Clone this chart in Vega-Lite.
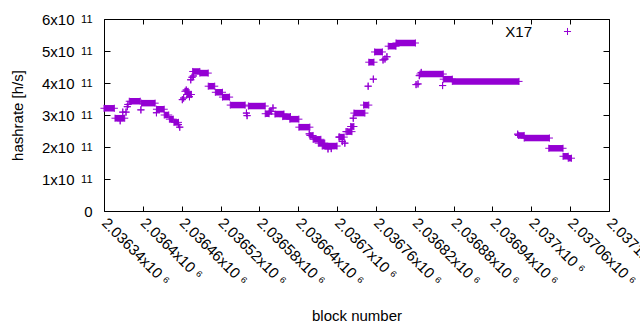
{
  "$schema": "https://vega.github.io/schema/vega-lite/v6.json",
  "width": 505,
  "height": 192,
  "autosize": "none",
  "padding": {"left": 104, "top": 19, "right": 31, "bottom": 119},
  "background": "white",
  "config": {
    "view": {"stroke": "black", "strokeWidth": 1},
    "font": "Liberation Sans",
    "axis": {
      "labelFont": "Liberation Sans",
      "labelFontSize": 15,
      "labelColor": "black",
      "titleFont": "Liberation Sans",
      "titleFontSize": 15,
      "titleFontWeight": "normal",
      "titleColor": "black",
      "tickColor": "black",
      "domain": false,
      "grid": false
    }
  },
  "data": {
    "values": [
      {"s": 2036340, "e": 2036356, "h": 3.21e11},
      {"s": 2036357, "e": 2036372, "h": 2.90e11},
      {"s": 2036365, "e": 2036365, "h": 2.82e11},
      {"s": 2036369, "e": 2036369, "h": 3.09e11},
      {"s": 2036374, "e": 2036374, "h": 3.09e11},
      {"s": 2036376, "e": 2036376, "h": 3.26e11},
      {"s": 2036377, "e": 2036377, "h": 3.33e11},
      {"s": 2036379, "e": 2036396, "h": 3.43e11},
      {"s": 2036397, "e": 2036397, "h": 3.16e11},
      {"s": 2036398, "e": 2036419, "h": 3.37e11},
      {"s": 2036421, "e": 2036421, "h": 3.07e11},
      {"s": 2036421, "e": 2036433, "h": 3.18e11},
      {"s": 2036433, "e": 2036440, "h": 3.00e11},
      {"s": 2036441, "e": 2036447, "h": 2.87e11},
      {"s": 2036448, "e": 2036455, "h": 2.77e11},
      {"s": 2036455, "e": 2036455, "h": 2.70e11},
      {"s": 2036457, "e": 2036457, "h": 2.62e11},
      {"s": 2036461, "e": 2036461, "h": 3.48e11},
      {"s": 2036463, "e": 2036463, "h": 3.53e11},
      {"s": 2036465, "e": 2036470, "h": 3.74e11},
      {"s": 2036467, "e": 2036467, "h": 3.78e11},
      {"s": 2036468, "e": 2036475, "h": 3.64e11},
      {"s": 2036472, "e": 2036472, "h": 3.57e11},
      {"s": 2036474, "e": 2036474, "h": 4.10e11},
      {"s": 2036476, "e": 2036476, "h": 4.18e11},
      {"s": 2036478, "e": 2036478, "h": 4.22e11},
      {"s": 2036477, "e": 2036488, "h": 4.36e11},
      {"s": 2036488, "e": 2036501, "h": 4.31e11},
      {"s": 2036501, "e": 2036511, "h": 3.90e11},
      {"s": 2036512, "e": 2036523, "h": 3.71e11},
      {"s": 2036523, "e": 2036534, "h": 3.56e11},
      {"s": 2036535, "e": 2036558, "h": 3.31e11},
      {"s": 2036560, "e": 2036560, "h": 3.06e11},
      {"s": 2036561, "e": 2036561, "h": 2.98e11},
      {"s": 2036563, "e": 2036589, "h": 3.28e11},
      {"s": 2036589, "e": 2036595, "h": 3.04e11},
      {"s": 2036595, "e": 2036599, "h": 3.11e11},
      {"s": 2036601, "e": 2036601, "h": 3.22e11},
      {"s": 2036604, "e": 2036618, "h": 3.03e11},
      {"s": 2036616, "e": 2036628, "h": 2.95e11},
      {"s": 2036627, "e": 2036641, "h": 2.87e11},
      {"s": 2036641, "e": 2036658, "h": 2.62e11},
      {"s": 2036657, "e": 2036657, "h": 2.41e11},
      {"s": 2036658, "e": 2036663, "h": 2.36e11},
      {"s": 2036663, "e": 2036675, "h": 2.24e11},
      {"s": 2036671, "e": 2036681, "h": 2.12e11},
      {"s": 2036677, "e": 2036700, "h": 2.03e11},
      {"s": 2036686, "e": 2036686, "h": 1.94e11},
      {"s": 2036691, "e": 2036691, "h": 1.95e11},
      {"s": 2036703, "e": 2036703, "h": 2.31e11},
      {"s": 2036704, "e": 2036711, "h": 2.31e11},
      {"s": 2036708, "e": 2036708, "h": 2.17e11},
      {"s": 2036712, "e": 2036712, "h": 2.12e11},
      {"s": 2036714, "e": 2036714, "h": 2.48e11},
      {"s": 2036716, "e": 2036723, "h": 2.48e11},
      {"s": 2036721, "e": 2036726, "h": 2.64e11},
      {"s": 2036725, "e": 2036725, "h": 2.90e11},
      {"s": 2036726, "e": 2036743, "h": 3.06e11},
      {"s": 2036741, "e": 2036749, "h": 3.31e11},
      {"s": 2036748, "e": 2036748, "h": 3.90e11},
      {"s": 2036749, "e": 2036757, "h": 4.65e11},
      {"s": 2036756, "e": 2036756, "h": 4.12e11},
      {"s": 2036758, "e": 2036770, "h": 4.97e11},
      {"s": 2036771, "e": 2036771, "h": 4.72e11},
      {"s": 2036774, "e": 2036774, "h": 4.75e11},
      {"s": 2036777, "e": 2036777, "h": 4.82e11},
      {"s": 2036779, "e": 2036791, "h": 5.15e11},
      {"s": 2036791, "e": 2036821, "h": 5.25e11},
      {"s": 2036822, "e": 2036822, "h": 3.95e11},
      {"s": 2036825, "e": 2036825, "h": 3.97e11},
      {"s": 2036827, "e": 2036827, "h": 4.23e11},
      {"s": 2036830, "e": 2036830, "h": 4.33e11},
      {"s": 2036828, "e": 2036864, "h": 4.28e11},
      {"s": 2036863, "e": 2036863, "h": 3.92e11},
      {"s": 2036864, "e": 2036878, "h": 4.12e11},
      {"s": 2036878, "e": 2036981, "h": 4.05e11},
      {"s": 2036979, "e": 2036979, "h": 2.40e11},
      {"s": 2036980, "e": 2036989, "h": 2.36e11},
      {"s": 2036989, "e": 2037028, "h": 2.28e11},
      {"s": 2037027, "e": 2037049, "h": 1.96e11},
      {"s": 2037049, "e": 2037057, "h": 1.71e11},
      {"s": 2037057, "e": 2037062, "h": 1.65e11}
    ]
  },
  "layer": [
    {
      "mark": {"type": "rule", "strokeWidth": 6.5, "color": "#9400D3"},
      "encoding": {
        "x": {
          "field": "s", "type": "quantitative",
          "scale": {"domain": [2036340, 2037120], "nice": false, "zero": false},
          "axis": {
            "orient": "bottom",
            "title": "block number",
            "values": [2036340, 2036400, 2036460, 2036520, 2036580, 2036640, 2036700, 2036760, 2036820, 2036880, 2036940, 2037000, 2037060, 2037120],
            "labelExpr": "format(datum.value / 1e6, '.5~f') + 'x10 ⁶'",
            "labelAngle": 45,
            "labelAlign": "left",
            "labelBaseline": "middle",
            "labelPadding": 14,
            "tickSize": -5,
            "labelOverlap": false,
            "labelBound": false,
            "labelFlush": false,
            "titleY": 97,
            "titleBaseline": "top"
          }
        },
        "x2": {"field": "e"},
        "y": {
          "field": "h", "type": "quantitative",
          "scale": {"domain": [0, 6e11], "nice": false},
          "axis": {
            "orient": "left",
            "title": "hashrate [h/s]",
            "values": [0, 1e11, 2e11, 3e11, 4e11, 5e11, 6e11],
            "labelExpr": "datum.value == 0 ? '' : format(datum.value / 1e11, 'd') + 'x10'",
            "labelPadding": 36,
            "tickSize": -6,
            "labelOverlap": false,
            "titlePadding": 16
          }
        }
      }
    },
    {
      "mark": {"type": "point", "shape": "M-1,0H1M0,-1V1", "filled": false, "strokeWidth": 1, "size": 50, "opacity": 1},
      "encoding": {
        "x": {"field": "s", "type": "quantitative", "axis": {"orient": "top", "labels": false, "title": null, "tickSize": -5, "values": [2036340, 2036400, 2036460, 2036520, 2036580, 2036640, 2036700, 2036760, 2036820, 2036880, 2036940, 2037000, 2037060, 2037120]}},
        "y": {"field": "h", "type": "quantitative", "axis": {"orient": "right", "labels": false, "title": null, "tickSize": -6, "values": [0, 1e11, 2e11, 3e11, 4e11, 5e11, 6e11]}},
        "color": {
          "datum": "X17",
          "scale": {"range": ["#9400D3"]},
          "legend": {
            "orient": "none",
            "legendX": 456,
            "legendY": 5,
            "title": null,
            "padding": 0,
            "labelFont": "Liberation Sans",
            "labelFontSize": 15,
            "labelColor": "black",
            "labelAlign": "right",
            "labelOffset": -43,
            "symbolType": "M-1,0H1M0,-1V1",
            "symbolSize": 50,
            "symbolStrokeWidth": 1,
            "symbolStrokeColor": "#9400D3"
          }
        }
      }
    },
    {
      "mark": {"type": "point", "shape": "M-1,0H1M0,-1V1", "filled": false, "strokeWidth": 1, "size": 50, "opacity": 1},
      "encoding": {
        "x": {"field": "e", "type": "quantitative", "axis": null},
        "y": {
          "field": "h", "type": "quantitative",
          "axis": {
            "orient": "left",
            "title": null,
            "ticks": false,
            "values": [0, 1e11, 2e11, 3e11, 4e11, 5e11, 6e11],
            "labelExpr": "datum.value == 0 ? '0' : '11'",
            "labelFontSize": {"condition": {"test": "datum.value == 0", "value": 15}, "value": 11},
            "labelDy": {"condition": {"test": "datum.value == 0", "value": 0}, "value": -4},
            "labelPadding": 12,
            "labelOverlap": false
          }
        },
        "color": {"datum": "X17"}
      }
    }
  ],
  "resolve": {"axis": {"x": "independent", "y": "independent"}}
}
